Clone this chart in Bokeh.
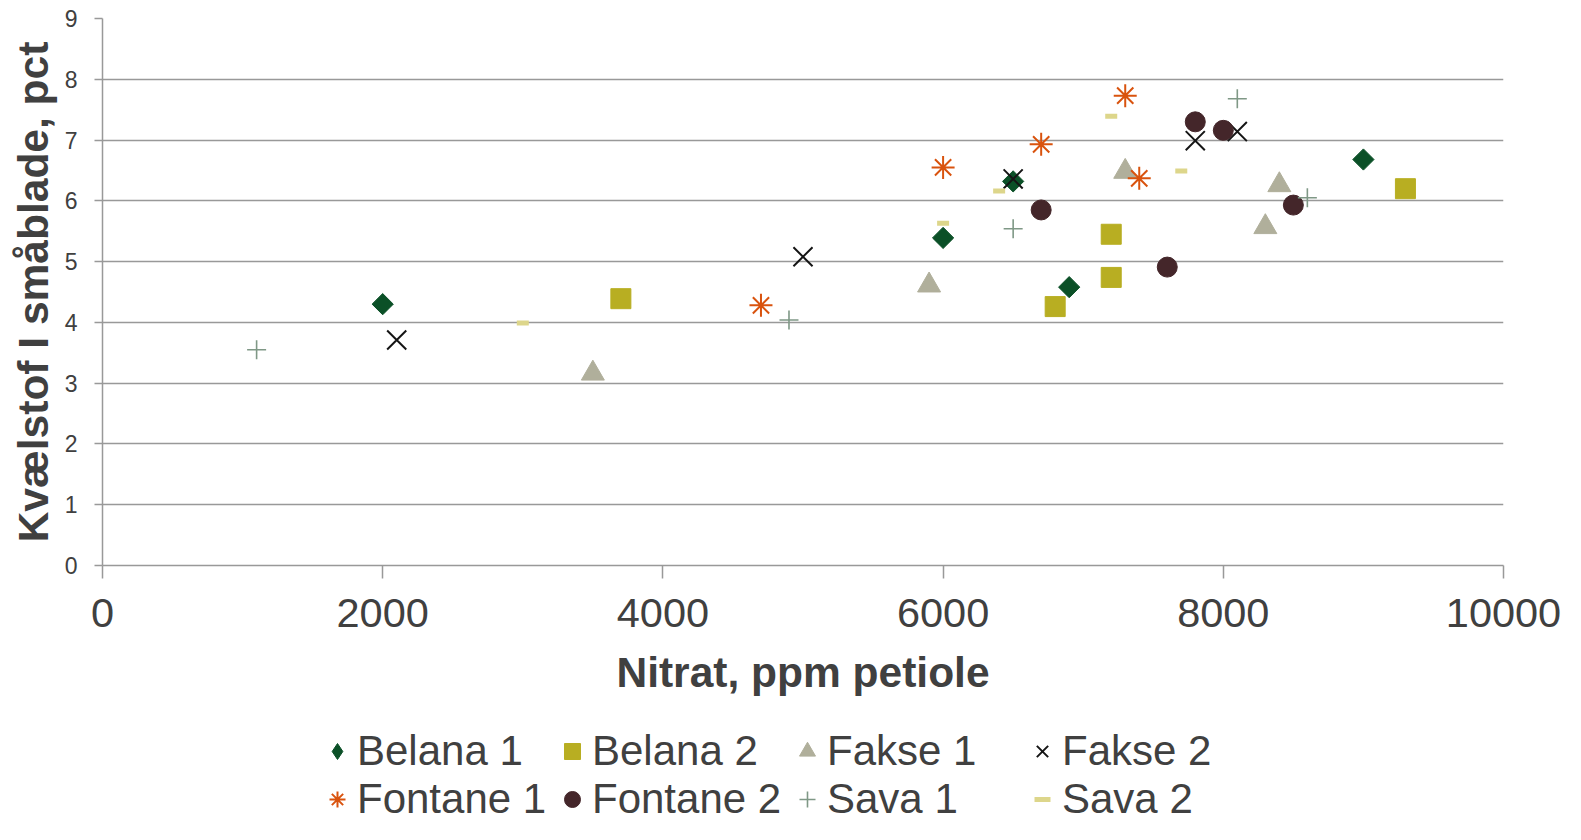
import math
from bokeh.plotting import figure
from bokeh.models import Range1d, FixedTicker, Legend, LegendItem
from bokeh.layouts import column
from bokeh.embed import file_html
from bokeh.resources import INLINE

# ---- data ----
series_names = ["Belana 1", "Belana 2", "Fakse 1", "Fakse 2",
                "Fontane 1", "Fontane 2", "Sava 1", "Sava 2"]

belana1_x = [2000, 6000, 6500, 6900, 9000]
belana1_y = [4.30, 5.39, 6.32, 4.58, 6.68]
belana2_x = [3700, 6800, 7200, 7200, 9300]
belana2_y = [4.39, 4.26, 5.45, 4.74, 6.20]
fakse1_x = [3500, 5900, 7300, 8300, 8400]
fakse1_y = [3.16, 4.61, 6.48, 5.57, 6.26]
fakse2_x = [2100, 5000, 6500, 7800, 8100]
fakse2_y = [3.71, 5.08, 6.36, 6.99, 7.14]
fontane1_x = [4700, 6000, 6700, 7300, 7400]
fontane1_y = [4.28, 6.55, 6.93, 7.73, 6.37]
fontane2_x = [6700, 7600, 7800, 8000, 8500]
fontane2_y = [5.85, 4.91, 7.30, 7.16, 5.93]
sava1_x = [1100, 4900, 6500, 8100, 8600]
sava1_y = [3.55, 4.04, 5.54, 7.68, 6.05]
sava2_x = [3000, 6000, 6400, 7200, 7700]
sava2_y = [3.99, 5.63, 6.16, 7.39, 6.49]

x_ticks = [0, 2000, 4000, 6000, 8000, 10000]
y_ticks = [0, 1, 2, 3, 4, 5, 6, 7, 8, 9]

x_title = "Nitrat, ppm petiole"
y_title = "Kvælstof I småblade, pct"

# ---- styles ----
FONT = "Liberation Sans"
TXT = "#404040"
GRID = "#999999"

styles = [
    dict(marker="square", size=15, angle=math.pi / 4, fill_color="#0B5027", line_color="#0B5027"),
    dict(marker="square", size=20, fill_color="#B8AE22", line_color="#B8AE22"),
    dict(marker="triangle", size=23, fill_color="#B0AF9B", line_color="#B0AF9B"),
    dict(marker="x", size=27, line_color="#151515", line_width=2),
    dict(marker="asterisk", size=23, line_color="#D9530E", line_width=2),
    dict(marker="circle", size=20, fill_color="#44262A", line_color="#44262A"),
    dict(marker="cross", size=19, line_color="#7F9886", line_width=1.6),
    dict(marker="dash", size=12, line_color="#DDD68B", line_width=5),
]
# legend swatches (legend glyphs ignore angle, so the diamond uses the diamond marker)
legend_styles = [dict(st) for st in styles]
legend_styles[0] = dict(marker="diamond", size=20, fill_color="#0B5027", line_color="#0B5027")

xs = [belana1_x, belana2_x, fakse1_x, fakse2_x, fontane1_x, fontane2_x, sava1_x, sava2_x]
ys = [belana1_y, belana2_y, fakse1_y, fakse2_y, fontane1_y, fontane2_y, sava1_y, sava2_y]

W = 1565
H1 = 712
H2 = 112

p = figure(width=W, height=H1, output_backend="svg", toolbar_location=None,
           x_range=Range1d(0, 10000), y_range=Range1d(0, 9),
           min_border_left=102, min_border_right=W - 1503, min_border_top=18,
           min_border_bottom=H1 - 565)
p.outline_line_color = None
p.background_fill_color = "white"
p.border_fill_color = "white"

p.xgrid.visible = False
p.ygrid.grid_line_color = GRID
p.ygrid.grid_line_width = 1.5
p.ygrid.ticker = FixedTicker(ticks=y_ticks)

xa = p.xaxis[0]
xa.ticker = FixedTicker(ticks=x_ticks)
xa.axis_line_color = GRID
xa.axis_line_width = 1.5
xa.major_tick_line_color = GRID
xa.major_tick_line_width = 1.5
xa.major_tick_out = 13
xa.major_tick_in = 0
xa.minor_tick_line_color = None
xa.major_label_text_font = FONT
xa.major_label_text_font_size = "41.5px"
xa.major_label_text_color = TXT
xa.major_label_standoff = 20
xa.axis_label = x_title
xa.axis_label_text_font = FONT
xa.axis_label_text_font_size = "42.5px"
xa.axis_label_text_font_style = "bold"
xa.axis_label_text_color = TXT
xa.axis_label_standoff = 19

ya = p.yaxis[0]
ya.ticker = FixedTicker(ticks=y_ticks)
ya.axis_line_color = GRID
ya.axis_line_width = 1.5
ya.major_tick_line_color = GRID
ya.major_tick_line_width = 1.5
ya.major_tick_out = 8
ya.major_tick_in = 0
ya.minor_tick_line_color = None
ya.major_label_text_font = FONT
ya.major_label_text_font_size = "23px"
ya.major_label_text_color = TXT
ya.major_label_standoff = 17
ya.axis_label = y_title
ya.axis_label_text_font = FONT
ya.axis_label_text_font_size = "42.5px"
ya.axis_label_text_font_style = "bold"
ya.axis_label_text_color = TXT
ya.axis_label_standoff = 5

for x, y, st in zip(xs, ys, styles):
    p.scatter(x, y, **st)

# ---- legend strip (separate canvas below the chart) ----
# Same series drawn into a y-range far away, so only their legend swatches show.
q = figure(width=W, height=H2, output_backend="svg", toolbar_location=None,
           x_range=Range1d(0, 10000), y_range=Range1d(100, 101),
           x_axis_type=None, y_axis_type=None, min_border=0)
q.outline_line_color = None
q.background_fill_color = "white"
q.border_fill_color = "white"

items = []
for name, x, y, st in zip(series_names, xs, ys, legend_styles):
    r = q.scatter(x, y, **st)
    items.append(LegendItem(label=name, renderers=[r]))

legend = Legend(items=items, location=(215, 1), orientation="horizontal",
                ncols=4, glyph_width=40, glyph_height=46, label_standoff=0,
                label_width=195, label_height=46, spacing=0, padding=0, margin=0,
                border_line_color=None, background_fill_alpha=0,
                label_text_font=FONT, label_text_font_size="42px",
                label_text_color=TXT, label_text_baseline="middle")
q.add_layout(legend, "center")

layout = column(p, q, spacing=0)
open("out.html", "w").write(file_html(layout, INLINE))
